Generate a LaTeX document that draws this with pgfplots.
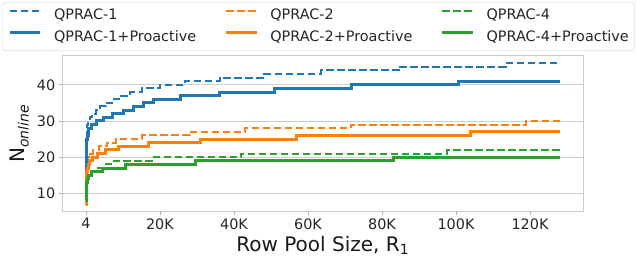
\documentclass[border=0pt]{standalone}
\usepackage{pgfplots}
\pgfplotsset{compat=1.18}
\usepackage{fontspec}
\setmainfont{DejaVu Sans}
\definecolor{tabblue}{HTML}{1F77B4}
\definecolor{taborange}{HTML}{FF7F0E}
\definecolor{tabgreen}{HTML}{2CA02C}
\begin{document}
\begin{tikzpicture}
\useasboundingbox (-62.3bp,-52.7bp) rectangle (574.7bp,211.3bp);
\begin{axis}[
  scale only axis, width=521bp, height=155.3bp,
  xmin=-6396, xmax=134404, ymin=5.05, ymax=47.95,
  xtick={4,20000,40000,60000,80000,100000,120000},
  xticklabels={4,20K,40K,60K,80K,100K,120K},
  ytick={10,20,30,40},
  scaled ticks=false,
  ymajorgrids, grid style={black!20, line width=0.8bp},
  axis line style={black!20, line width=1bp},
  tick align=outside, major tick length=3.5bp,
  tick style={black!30, line width=0.8bp},
  xtick pos=lower, ytick pos=left,
  /pgf/number format/assume math mode=true,
  ticklabel style={font=\fontsize{14.4bp}{17bp}\selectfont, text=black!85},
  label style={font=\fontsize{20bp}{24bp}\selectfont, text=black!90},
  xlabel={Row Pool Size, R\textsubscript{1}},
  ylabel={N\textsubscript{\textit{online}}},
  xlabel style={at={(axis description cs:0.5,-0.2595)}, anchor=base},
  ylabel style={at={(axis description cs:-0.0716,0.5)}, anchor=base},
  legend columns=3,
  legend cell align=left,
  legend image code/.code={\draw[#1] (0bp,5bp) -- (30.5bp,5bp);},
  legend style={at={(axis description cs:-0.1142,1.3458)}, anchor=north west,
    draw=black!20, rounded corners=2bp, fill=white,
    font=\fontsize{14.4bp}{17bp}\selectfont, text=black!85,
    inner xsep=5.3bp, inner ysep=6.7bp, row sep=8.2bp,
    nodes={inner sep=0pt, text height=10.4bp, text depth=3bp},
    /tikz/every odd column/.append style={column sep=12.2bp},
    /tikz/every even column/.append style={column sep=28.5bp}},
  dsh/.style={const plot, no markers, line width=2bp, dash pattern=on 7.5bp off 3.5bp},
  sld/.style={const plot, no markers, line width=3bp},
]
% QPRAC-1
\addplot[dsh, tabblue] coordinates {(4,7) (10,12) (20,16) (40,20) (70,23) (100,25) (150,27) (250,28) (350,29) (600,30) (1000,31) (1700,32) (2600,33) (3900,34) (5300,35) (7100,36) (8900,37) (12000,38) (15200,39) (20100,40) (26700,41) (36100,42) (48100,43) (63600,44) (85000,45) (113400,46) (128000,46)};
\addlegendentry{QPRAC-1}
% QPRAC-2
\addplot[dsh, taborange] coordinates {(4,7) (10,10) (20,12) (40,14) (80,16) (150,18) (300,19) (600,20) (1200,21) (2000,22) (3500,23) (5700,24) (8000,25) (15200,26) (28000,27) (42900,28) (71500,29) (119000,30) (128000,30)};
\addlegendentry{QPRAC-2}
% QPRAC-4
\addplot[dsh, tabgreen] coordinates {(4,8) (10,9) (20,10) (50,12) (100,13) (300,14) (700,15) (1700,16) (3000,17) (4800,18) (7500,19) (17900,20) (41800,21) (97600,22) (128000,22)};
\addlegendentry{QPRAC-4}
% QPRAC-1+Proactive
\addplot[sld, tabblue] coordinates {(4,7) (10,11) (20,14) (40,18) (70,21) (100,23) (150,24) (250,25) (400,26) (550,27) (800,28) (1400,29) (2800,30) (4800,31) (7100,32) (10200,33) (12900,34) (15600,35) (18300,36) (25500,37) (36000,38) (51000,39) (71700,40) (100700,41) (128000,41)};
\addlegendentry{QPRAC-1+Proactive}
% QPRAC-2+Proactive
\addplot[sld, taborange] coordinates {(4,7) (10,9) (20,11) (40,13) (80,15) (150,16) (300,17) (600,18) (1000,19) (1700,20) (3000,21) (5300,22) (8900,23) (17000,24) (30900,25) (56800,26) (103800,27) (128000,27)};
\addlegendentry{QPRAC-2+Proactive}
% QPRAC-4+Proactive
\addplot[sld, tabgreen] coordinates {(4,8) (10,9) (30,11) (80,12) (200,13) (400,14) (760,15) (1500,16) (4400,17) (10700,18) (29600,19) (83000,20) (128000,20)};
\addlegendentry{QPRAC-4+Proactive}
\end{axis}
\end{tikzpicture}
\end{document}
